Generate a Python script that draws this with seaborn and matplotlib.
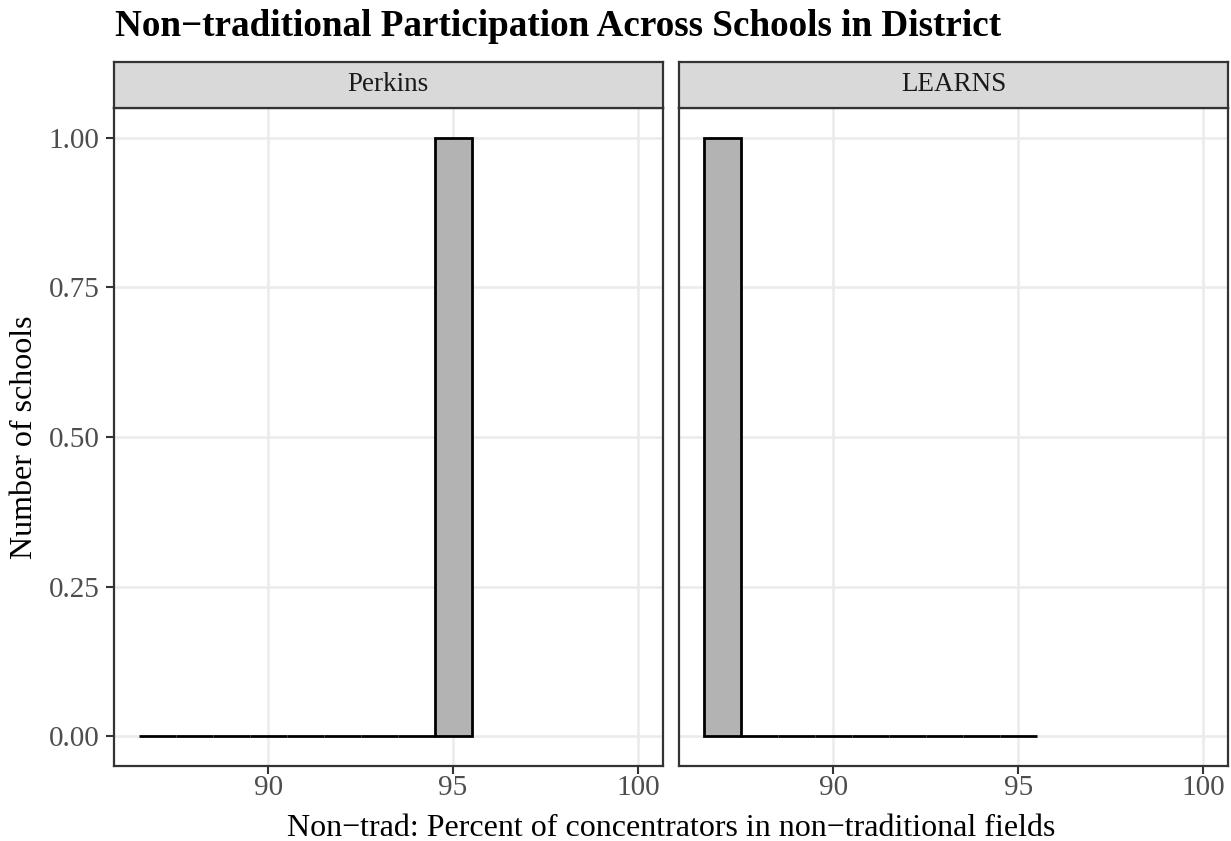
import numpy as np
import pandas as pd
import matplotlib
matplotlib.use("Agg")
import matplotlib.pyplot as plt
import seaborn as sns

# data: one school per program
programs = ["Perkins", "LEARNS"]
nontrad_pct = [95.0, 87.0]
y_ticks = [0, 0.25, 0.5, 0.75, 1.0]
y_ticklabels = ["0.00", "0.25", "0.50", "0.75", "1.00"]
x_ticks = [90, 95, 100]

sns.set_theme(style="white")
plt.rcParams["font.family"] = ["Liberation Serif", "DejaVu Serif"]

df = pd.DataFrame({"program": programs, "nontrad": nontrad_pct})
bins = np.arange(86.5, 96.5, 1.0)

W, H = 1231, 841
fig = plt.figure(figsize=(W / 100, H / 100), dpi=100)

def box(x0, x1, y0, y1):
    # pixel box -> figure fraction rect
    return [x0 / W, 1 - y1 / H, (x1 - x0) / W, (y1 - y0) / H]

panel_x = [(113.7, 663), (679, 1228)]
panel_y = (108, 766)
strip_y = (62, 108)
edge = "#333333"

for i, prog in enumerate(programs):
    x0, x1 = panel_x[i]
    ax = fig.add_axes(box(x0, x1, *panel_y))
    sub = df[df["program"] == prog]
    sns.histplot(data=sub, x="nontrad", bins=bins, ax=ax, stat="count",
                 color="#B3B3B3", edgecolor="black", linewidth=2, alpha=1,
                 zorder=3)
    ax.set_xlim(85.825, 100.675)
    ax.set_ylim(-0.05, 1.05)
    ax.set_xticks(x_ticks)
    ax.set_yticks(y_ticks)
    ax.grid(True, color="#EBEBEB", linewidth=1.8, zorder=0)
    ax.set_axisbelow(True)
    for s in ax.spines.values():
        s.set_color(edge)
        s.set_linewidth(1.6)
        s.set_visible(True)
    ax.tick_params(axis="both", direction="out", length=5.6, width=1.5,
                   color=edge, labelcolor="#4D4D4D", labelsize=21,
                   bottom=True, left=True)
    ax.tick_params(axis="x", pad=1)
    ax.tick_params(axis="y", pad=4.5)
    ax.set_xlabel("")
    ax.set_ylabel("")
    if i == 0:
        ax.set_yticklabels(y_ticklabels)
    else:
        ax.tick_params(axis="y", left=False, labelleft=False)

    sax = fig.add_axes(box(x0, x1, *strip_y))
    sax.set_facecolor("#D9D9D9")
    sax.set_xticks([])
    sax.set_yticks([])
    for s in sax.spines.values():
        s.set_color(edge)
        s.set_linewidth(1.6)
    sax.text(0.5, 0.37, prog, ha="center", va="baseline", fontsize=19.5,
             color="#1A1A1A", transform=sax.transAxes)

fig.text(115 / W, 1 - 36 / H, "Non\u2212traditional Participation Across Schools in District",
         ha="left", va="baseline", fontsize=26.7, fontweight="bold", color="black")
fig.text(671 / W, 1 - 836 / H,
         "Non\u2212trad: Percent of concentrators in non\u2212traditional fields",
         ha="center", va="baseline", fontsize=23, color="black")
fig.text(25 / W, 1 - 437 / H, "Number of schools", rotation=90,
         ha="center", va="center", fontsize=23, color="black")

fig.savefig("out.png", dpi=100, facecolor="white")
